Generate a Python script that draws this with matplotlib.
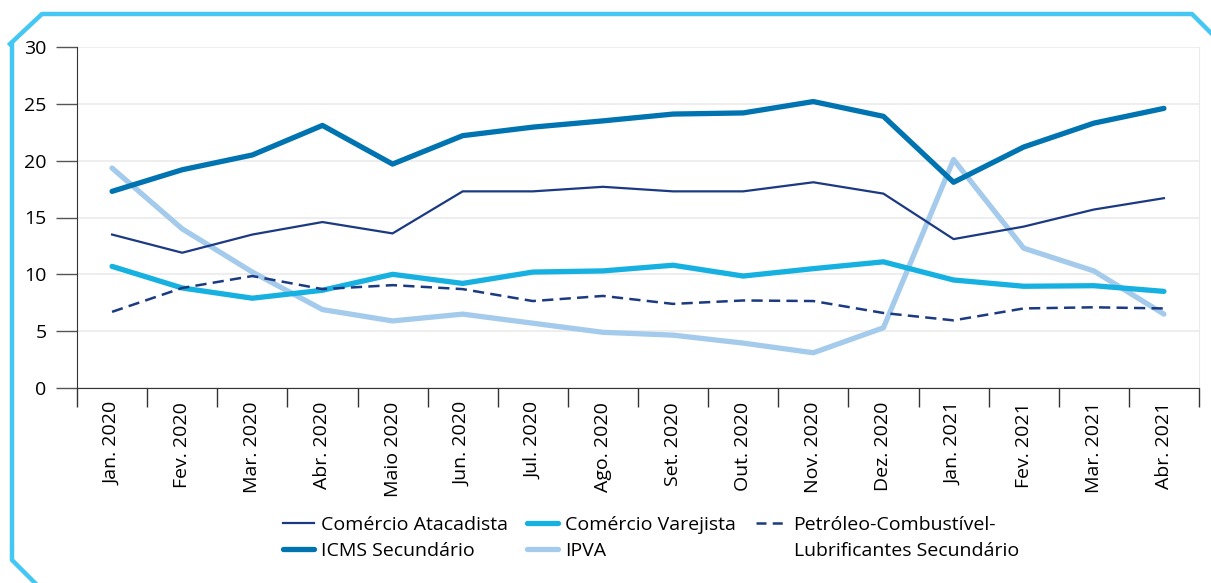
import matplotlib.pyplot as plt
from matplotlib.lines import Line2D

plt.rcParams['font.family'] = ['Open Sans', 'DejaVu Sans']

months = ["Jan. 2020", "Fev. 2020", "Mar. 2020", "Abr. 2020", "Maio 2020",
          "Jun. 2020", "Jul. 2020", "Ago. 2020", "Set. 2020", "Out. 2020",
          "Nov. 2020", "Dez. 2020", "Jan. 2021", "Fev. 2021", "Mar. 2021",
          "Abr. 2021"]

atacadista = [13.5, 11.9, 13.5, 14.6, 13.6, 17.3, 17.3, 17.7, 17.3, 17.3,
              18.1, 17.1, 13.1, 14.2, 15.7, 16.7]
icms = [17.3, 19.2, 20.5, 23.1, 19.7, 22.2, 22.95, 23.5, 24.1, 24.2,
        25.2, 23.9, 18.1, 21.2, 23.3, 24.6]
varejista = [10.7, 8.8, 7.9, 8.6, 10.0, 9.2, 10.2, 10.3, 10.8, 9.85,
             10.5, 11.1, 9.5, 8.95, 9.0, 8.5]
ipva = [19.35, 14.0, 10.2, 6.9, 5.9, 6.5, 5.7, 4.9, 4.65, 3.95,
        3.1, 5.3, 20.1, 12.3, 10.3, 6.5]
petroleo = [6.7, 8.8, 9.85, 8.7, 9.05, 8.7, 7.65, 8.1, 7.4, 7.7,
            7.65, 6.6, 5.95, 7.0, 7.1, 7.0]

navy = "#1B3A82"
icms_c = "#0073B1"
varejo_c = "#16B1E0"
ipva_c = "#A4CBEC"
frame_c = "#44C8F3"

W, H = 1211, 583
fig = plt.figure(figsize=(W / 100, H / 100), dpi=100)
ax = fig.add_axes([77 / W, 1 - 388 / H, (1199 - 77) / W, (388 - 47) / H])

x = [i + 0.5 for i in range(len(months))]
ax.plot(x, icms, color=icms_c, lw=3.8, solid_capstyle='round', zorder=3)
ax.plot(x, atacadista, color=navy, lw=1.6, zorder=4)
ax.plot(x, varejista, color=varejo_c, lw=3.8, solid_capstyle='round', zorder=3)
ax.plot(x, ipva, color=ipva_c, lw=3.8, solid_capstyle='round', zorder=2)
ax.plot(x, petroleo, color=navy, lw=1.8, ls=(0, (4.5, 2.5)), zorder=4)

ax.set_xlim(0, len(months))
ax.set_ylim(0, 30)
ax.set_yticks(range(0, 31, 5))
ax.set_xticks(range(len(months) + 1))
ax.set_xticks(x, minor=True)
ax.set_xticklabels([])
ax.set_xticklabels(months, minor=True, rotation=90, fontsize=14)
ax.tick_params(axis='x', which='major', length=14, width=1, color='#333333',
               direction='out')
ax.tick_params(axis='x', which='minor', length=0, pad=10)
ax.tick_params(axis='y', length=15, width=1, color='#555555', labelsize=14,
               pad=7)
ax.grid(axis='y', color='#EBEBEB', lw=1.2, zorder=0)
ax.set_axisbelow(True)
ax.spines['top'].set_visible(False)
ax.spines['right'].set_color('#EBEBEB')
ax.spines['left'].set_color('#333333')
ax.spines['bottom'].set_color('#333333')

handles = [
    Line2D([], [], color=navy, lw=1.6),
    Line2D([], [], color=icms_c, lw=3.8, solid_capstyle='round'),
    Line2D([], [], color=varejo_c, lw=3.8, solid_capstyle='round'),
    Line2D([], [], color=ipva_c, lw=3.8, solid_capstyle='round'),
    Line2D([], [], color=navy, lw=1.8, ls=(0, (4, 2.5))),
    Line2D([], [], color='none'),
]
labels = ["Comércio Atacadista", "ICMS Secundário", "Comércio Varejista",
          "IPVA", "Petróleo-Combustível-", "Lubrificantes Secundário"]
leg = fig.legend(handles, labels, ncol=3, frameon=False, fontsize=14,
                 loc='upper left', bbox_to_anchor=(283 / W, 1 - 516 / H),
                 handlelength=1.6, handletextpad=0.35, columnspacing=1.0,
                 labelspacing=0.4, borderaxespad=0, borderpad=0)

# decorative frame
fx = [10, 42, 1192, 1214]
fy = [44, 14, 14, 36]
fig.add_artist(Line2D([p / W for p in fx], [1 - p / H for p in fy],
                      color=frame_c, lw=3.2, transform=fig.transFigure))
fig.add_artist(Line2D([12 / W, 12 / W, 37 / W],
                      [1 - 43 / H, 1 - 560 / H, 1 - 585 / H],
                      color=frame_c, lw=3.2, transform=fig.transFigure))

fig.savefig("out.png", dpi=100)
